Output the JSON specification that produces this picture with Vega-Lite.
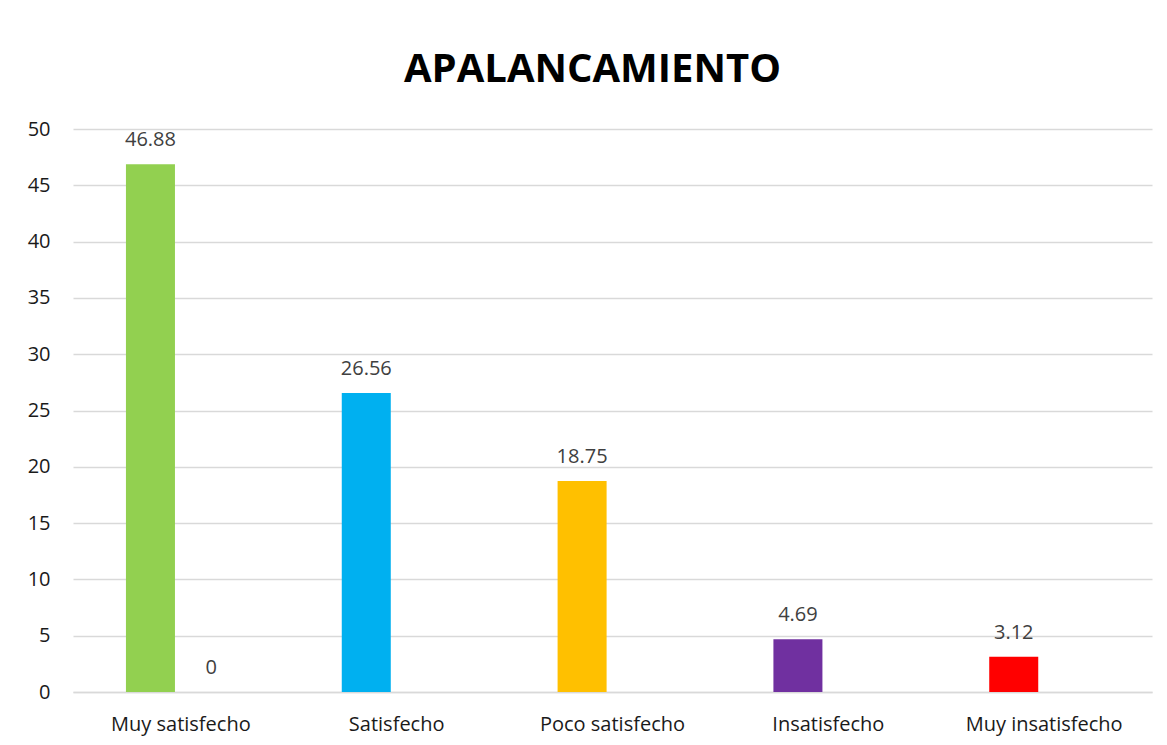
{
  "$schema": "https://vega.github.io/schema/vega-lite/v6.json",
  "autosize": {"type": "none"},
  "width": 1079,
  "height": 563,
  "padding": {"left": 73, "top": 129, "right": 15, "bottom": 53},
  "background": "white",
  "title": {
    "text": "APALANCAMIENTO",
    "font": "Open Sans",
    "fontSize": 40,
    "fontWeight": "bold",
    "color": "#000000",
    "anchor": "middle",
    "dx": -20,
    "offset": 29
  },
  "config": {
    "view": {"stroke": null},
    "font": "Open Sans"
  },
  "data": {
    "values": [
      {"categoria": "Muy satisfecho", "serie": "A", "valor": 46.88},
      {"categoria": "Muy satisfecho", "serie": "B", "valor": 0},
      {"categoria": "Satisfecho", "serie": "A", "valor": 26.56},
      {"categoria": "Poco satisfecho", "serie": "A", "valor": 18.75},
      {"categoria": "Insatisfecho", "serie": "A", "valor": 4.69},
      {"categoria": "Muy insatisfecho", "serie": "A", "valor": 3.12}
    ]
  },
  "encoding": {
    "x": {
      "field": "categoria",
      "type": "nominal",
      "sort": ["Muy satisfecho", "Satisfecho", "Poco satisfecho", "Insatisfecho", "Muy insatisfecho"],
      "scale": {"paddingInner": 0.4365, "paddingOuter": 0.218},
      "axis": {
        "title": null,
        "labelAngle": 0,
        "labelFontSize": 20,
        "labelColor": "#1a1a1a",
        "labelPadding": 22,
        "ticks": false,
        "domain": true,
        "domainColor": "#d9d9d9",
        "domainWidth": 1.5
      }
    },
    "xOffset": {
      "field": "serie",
      "type": "nominal",
      "scale": {"domain": ["A", "B"], "paddingInner": 0.194, "paddingOuter": 0.097}
    },
    "y": {
      "field": "valor",
      "type": "quantitative",
      "scale": {"domain": [0, 50], "nice": false},
      "axis": {
        "title": null,
        "values": [0, 5, 10, 15, 20, 25, 30, 35, 40, 45, 50],
        "labelFontSize": 20,
        "labelColor": "#1a1a1a",
        "labelPadding": 23,
        "ticks": false,
        "domain": false,
        "gridColor": "#d9d9d9",
        "gridWidth": 1.5
      }
    }
  },
  "layer": [
    {
      "mark": {"type": "bar"},
      "encoding": {
        "color": {
          "field": "categoria",
          "type": "nominal",
          "scale": {
            "domain": ["Muy satisfecho", "Satisfecho", "Poco satisfecho", "Insatisfecho", "Muy insatisfecho"],
            "range": ["#92D050", "#00B0F0", "#FFC000", "#7030A0", "#FF0000"]
          },
          "legend": null
        }
      }
    },
    {
      "mark": {"type": "text", "baseline": "alphabetic", "dy": -18, "fontSize": 20, "color": "#404040"},
      "encoding": {
        "text": {"field": "valor", "type": "quantitative"}
      }
    }
  ]
}
